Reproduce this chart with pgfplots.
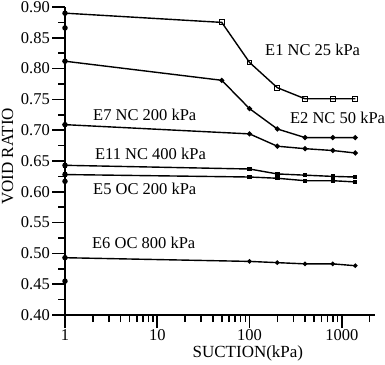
\documentclass[border=0pt]{standalone}
\usepackage{pgfplots}
\pgfplotsset{compat=1.18}
\usepackage{fontspec}
\setmainfont{Liberation Serif}
\begin{document}
\fontsize{16}{19}\selectfont
\begin{tikzpicture}
\begin{axis}[
  at={(0pt,0pt)}, anchor=south west,
  scale only axis, width=310pt, height=308pt,
  xmode=log, xmin=1, xmax=2290, ymin=0.40, ymax=0.90,
  axis x line=bottom, axis y line=left,
  axis line style={-, line width=1.5pt},
  tick align=outside, major tick length=13pt, minor tick length=7pt,
  tick style={line width=1.6pt, black},
  xtick={1,10,100,1000}, xticklabels={1,10,100,1000},
  minor xtick={2,3,4,5,6,7,8,9,20,30,40,50,60,70,80,90,200,300,400,500,600,700,800,900,2000},
  ytick={0.40,0.45,...,0.91}, minor y tick num=1,
  /pgf/number format/assume math mode=true,
  y tick label style={/pgf/number format/fixed, /pgf/number format/fixed zerofill, /pgf/number format/precision=2},
  tick label style={font=\fontsize{16.5}{19}\selectfont, black},
  yticklabel style={inner sep=0pt, anchor=east, xshift=-2pt},
  xticklabel style={inner sep=0pt, anchor=north, yshift=-1pt},
  xlabel={SUCTION(kPa)}, ylabel={VOID RATIO},
  label style={font=\fontsize{17}{19}\selectfont},
  xlabel style={at={(axis description cs:0.59,-0.125)}, anchor=center},
  ylabel style={at={(axis description cs:-0.185,0.515)}, anchor=center},
  clip=false,
  every axis plot/.append style={black, line width=1.4pt},
]
% E1 NC 25 kPa
\addplot[mark=square, mark size=2.4pt, mark options={fill=white, line width=1pt}, mark indices={2,3,4,5,6,7}] coordinates {
 (1,0.890) (50,0.875) (100,0.810) (200,0.769) (400,0.751) (800,0.751) (1400,0.751)};
% E2 NC 50 kPa
\addplot[mark=*, mark size=1.8pt] coordinates {
 (1,0.812) (50,0.781) (100,0.735) (200,0.702) (400,0.688) (800,0.688) (1400,0.688)};
% E7 NC 200 kPa
\addplot[mark=*, mark size=1.8pt] coordinates {
 (1,0.709) (100,0.694) (200,0.674) (400,0.670) (800,0.667) (1400,0.663)};
% E11 NC 400 kPa
\addplot[mark=square*, mark size=1.5pt] coordinates {
 (1,0.643) (100,0.637) (200,0.629) (400,0.627) (800,0.625) (1400,0.624)};
% E5 OC 200 kPa
\addplot[mark=square*, mark size=1.5pt] coordinates {
 (1,0.628) (100,0.624) (200,0.622) (400,0.618) (800,0.618) (1400,0.616)};
% E6 OC 800 kPa
\addplot[mark=*, mark size=1.5pt] coordinates {
 (1,0.493) (100,0.487) (200,0.485) (400,0.483) (800,0.483) (1400,0.480)};
% initial points on the axis
\addplot[only marks, mark=*, mark size=2pt] coordinates {
 (1,0.890) (1,0.866) (1,0.812) (1,0.709) (1,0.643) (1,0.628) (1,0.617) (1,0.493) (1,0.455)};
\node[anchor=west, inner sep=0pt, font=\fontsize{16.5}{19}\selectfont] at (axis cs:147,0.8307) {E1 NC 25 kPa};
\node[anchor=west, inner sep=0pt, font=\fontsize{16.5}{19}\selectfont] at (axis cs:274,0.720) {E2 NC 50 kPa};
\node[anchor=west, inner sep=0pt, font=\fontsize{16.5}{19}\selectfont] at (axis cs:2.01,0.7252) {E7 NC 200 kPa};
\node[anchor=west, inner sep=0pt, font=\fontsize{16.5}{19}\selectfont] at (axis cs:2.11,0.6619) {E11 NC 400 kPa};
\node[anchor=west, inner sep=0pt, font=\fontsize{16.5}{19}\selectfont] at (axis cs:2.01,0.6049) {E5 OC 200 kPa};
\node[anchor=west, inner sep=0pt, font=\fontsize{16.5}{19}\selectfont] at (axis cs:1.96,0.5174) {E6 OC 800 kPa};
\end{axis}
\pgfresetboundingbox
\path (-65pt,-49pt) rectangle (320pt,315pt);
\end{tikzpicture}
\end{document}
